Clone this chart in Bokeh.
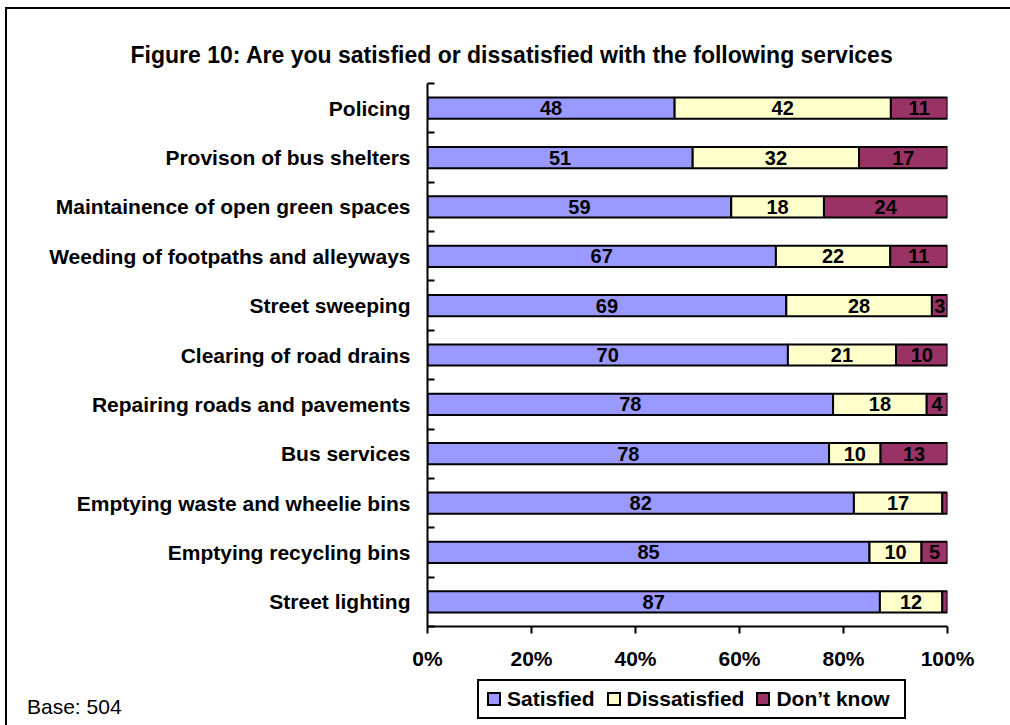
from bokeh.plotting import figure
from bokeh.layouts import column
from bokeh.models import (ColumnDataSource, FixedTicker, Range1d, Div)
from bokeh.core.properties import value
from bokeh.embed import file_html
from bokeh.resources import INLINE

services = [
    "Policing",
    "Provison of bus shelters",
    "Maintainence of open green spaces",
    "Weeding of footpaths and alleyways",
    "Street sweeping",
    "Clearing of road drains",
    "Repairing roads and pavements",
    "Bus services",
    "Emptying waste and wheelie bins",
    "Emptying recycling bins",
    "Street lighting",
]
satisfied = [48, 51, 59, 67, 69, 70, 78, 78, 82, 85, 87]
dissatisfied = [42, 32, 18, 22, 28, 21, 18, 10, 17, 10, 12]
dont_know = [11, 17, 24, 11, 3, 10, 4, 13, 1, 5, 1]
series_names = ["Satisfied", "Dissatisfied", "Don\u2019t know"]
colors = ["#9999FF", "#FFFFCC", "#993366"]
x_ticks = [0, 0.2, 0.4, 0.6, 0.8, 1.0]
x_tick_labels = ["0%", "20%", "40%", "60%", "80%", "100%"]
title_text = "Figure 10: Are you satisfied or dissatisfied with the following services"
base_text = "Base: 504"

FONT = "Liberation Sans"
n = len(services)
ypos = [n - 1 - i + 0.5 for i in range(n)]
totals = [a + b + c for a, b, c in zip(satisfied, dissatisfied, dont_know)]
s_f = [a / t for a, t in zip(satisfied, totals)]
d_f = [b / t for b, t in zip(dissatisfied, totals)]
k_f = [c / t for c, t in zip(dont_know, totals)]

src = ColumnDataSource(dict(y=ypos, s=s_f, d=d_f, k=k_f))

# ---------------- main chart ----------------
p = figure(width=1010, height=672, x_range=Range1d(0, 1), y_range=Range1d(0, n),
           output_backend="svg", toolbar_location=None,
           min_border_left=427, min_border_right=63, min_border_top=83, min_border_bottom=45)
p.outline_line_color = None
p.xgrid.visible = False
p.ygrid.visible = False

renderers = p.hbar_stack(["s", "d", "k"], y="y", height=0.43, color=colors,
                         line_color="black", line_width=2, source=src)

# segment labels
lx, ly, lt = [], [], []
for i in range(n):
    vals = [satisfied[i], dissatisfied[i], dont_know[i]]
    fr = [s_f[i], d_f[i], k_f[i]]
    left = 0.0
    for v, f in zip(vals, fr):
        if v >= 2:
            lx.append(left + f / 2)
            ly.append(ypos[i])
            lt.append(str(v))
        left += f
lsrc = ColumnDataSource(dict(x=lx, y=ly, t=lt))
p.text(x="x", y="y", text="t", source=lsrc, text_align="center", text_baseline="middle",
       text_font=value(FONT), text_font_style="bold", text_font_size="20px", text_color="black")

# x axis
xa = p.xaxis[0]
xa.ticker = FixedTicker(ticks=x_ticks)
xa.major_label_overrides = {t: l for t, l in zip(x_ticks, x_tick_labels)}
xa.axis_line_width = 2
xa.major_tick_line_width = 2
xa.major_tick_in = 0
xa.major_tick_out = 7
xa.minor_tick_line_color = None
xa.major_label_standoff = 13
xa.major_label_text_font = FONT
xa.major_label_text_font_style = "bold"
xa.major_label_text_font_size = "21px"
xa.major_label_text_color = "black"

# y axis
ya = p.yaxis[0]
ya.ticker = FixedTicker(ticks=ypos, minor_ticks=list(range(n + 1)))
ya.major_label_overrides = {y: s for y, s in zip(ypos, services)}
ya.axis_line_width = 2
ya.major_tick_line_color = None
ya.major_tick_in = 0
ya.major_tick_out = 0
ya.minor_tick_line_width = 2
ya.minor_tick_in = 7
ya.minor_tick_out = 0
ya.major_label_standoff = 17
ya.major_label_text_font = FONT
ya.major_label_text_font_style = "bold"
ya.major_label_text_font_size = "21px"
ya.major_label_text_color = "black"

# title
p.title.text = title_text
p.title.align = "left"
p.title.offset = -297
p.title.standoff = 32
p.title.text_font = FONT
p.title.text_font_style = "bold"
p.title.text_font_size = "23px"
p.title.text_color = "black"

# ---------------- bottom strip: legend, base note and chart-area frame ----------------
items_html = "".join(
    '<span style="display:inline-flex;align-items:center;margin-right:12px;">'
    f'<span style="display:inline-block;width:10px;height:10px;border:2px solid black;'
    f'background:{c};margin-right:6px;"></span>{nm}</span>'
    for nm, c in zip(series_names, colors)
)
bottom_html = (
    f'<div style="position:relative;width:1010px;height:53px;font-family:\'{FONT}\';color:black;">'
    '<div style="position:absolute;left:5px;top:-665px;width:1005px;height:2px;background:black;"></div>'
    '<div style="position:absolute;left:5px;top:-665px;width:2px;height:718px;background:black;"></div>'
    f'<div style="position:absolute;left:27px;top:23px;font-size:21px;line-height:24px;">{base_text}</div>'
    '<div style="position:absolute;left:477px;top:7px;width:417px;height:36px;border:2px solid black;'
    'box-sizing:content-box;display:flex;align-items:center;padding:0 0 0 8px;'
    f'font-weight:bold;font-size:21px;line-height:24px;white-space:nowrap;">{items_html}</div>'
    '</div>'
)
bottom = Div(text=bottom_html, width=1010, height=53, margin=0)

layout = column(p, bottom, spacing=0)
open("out.html", "w").write(file_html(layout, INLINE))
